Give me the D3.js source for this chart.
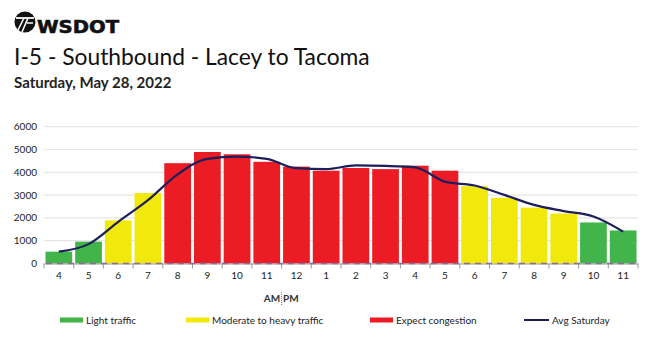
<!DOCTYPE html>
<html>
<head>
<meta charset="utf-8">
<script src="https://cdn.jsdelivr.net/npm/d3@7"></script>
<style>
  html, body { margin: 0; padding: 0; background: #fff; }
  svg { display: block; font-family: Lato, "Open Sans", sans-serif; }
</style>
</head>
<body>
<svg id="chart" width="650" height="337"></svg>
<script>
// Hourly labels, 4 AM through 11 PM
const hours = ["4","5","6","7","8","9","10","11","12","1","2","3","4","5","6","7","8","9","10","11"];
// Traffic volume for the day
const volumes = [520, 960, 1890, 3090, 4400, 4890, 4790, 4460, 4250, 4070, 4190, 4140, 4290, 4070, 3390, 2880, 2450, 2190, 1800, 1450];
// Average Saturday volume
const avgSaturday = [520, 850, 1830, 2780, 3910, 4590, 4690, 4590, 4180, 4140, 4300, 4280, 4220, 3590, 3420, 3010, 2570, 2300, 2060, 1400];
// Congestion level of each hour
const levels = ["light","light","moderate","moderate",
  "congestion","congestion","congestion","congestion","congestion",
  "congestion","congestion","congestion","congestion","congestion",
  "moderate","moderate","moderate","moderate","light","light"];
const yTicks = [0, 1000, 2000, 3000, 4000, 5000, 6000];
const legendItems = [
  { key: "light", label: "Light traffic" },
  { key: "moderate", label: "Moderate to heavy traffic" },
  { key: "congestion", label: "Expect congestion" },
  { key: "avg", label: "Avg Saturday" }
];

const colors = { light: "#41b54a", moderate: "#f2e90c", congestion: "#ec1c24", avg: "#1c1f5c" };

const svg = d3.select("#chart");

// Header: logo, title, date
const logo = svg.append("g").attr("transform", "translate(25,22)");
logo.append("circle").attr("r", 10.5).attr("fill", "#111");
logo.append("path").attr("d", "M-9,-4 L9,-4").attr("stroke", "#fff").attr("stroke-width", 1.8);
logo.append("path").attr("d", "M-1,-4 L-7,8 M3,-4 L-3,10 M2,1 L8,1").attr("stroke", "#fff").attr("stroke-width", 1.6).attr("fill", "none");
svg.append("text").attr("x", 37).attr("y", 33).attr("font-family", "'DejaVu Sans', sans-serif")
  .attr("font-weight", "bold").attr("font-size", 17).attr("fill", "#111")
  .attr("stroke", "#111").attr("stroke-width", 0.6)
  .attr("textLength", 82).attr("lengthAdjust", "spacingAndGlyphs").text("WSDOT");

svg.append("text").attr("x", 14).attr("y", 65).attr("font-size", 22.8).attr("fill", "#111")
  .text("I-5 - Southbound - Lacey to Tacoma");
svg.append("text").attr("x", 14).attr("y", 88).attr("font-size", 15).attr("font-weight", "bold").attr("fill", "#222")
  .text("Saturday, May 28, 2022");

// Plot area
const plotLeft = 44, plotRight = 638, plotTop = 126.7, plotBottom = 263.5;
const x = d3.scaleBand().domain(d3.range(hours.length)).range([plotLeft, plotRight]).paddingInner(0.1).paddingOuter(0.05);
const y = d3.scaleLinear().domain([0, 6000]).range([plotBottom, plotTop]);

// Gridlines
svg.append("g").selectAll("line").data(yTicks.filter(d => d > 0)).join("line")
  .attr("x1", plotLeft).attr("x2", plotRight)
  .attr("y1", d => y(d)).attr("y2", d => y(d))
  .attr("stroke", "#e6e6e6").attr("stroke-width", 1.2);

// Y labels
svg.append("g").selectAll("text").data(yTicks).join("text")
  .attr("x", 37).attr("y", d => y(d)).attr("dy", "0.35em")
  .attr("text-anchor", "end").attr("font-size", 10).attr("fill", "#222")
  .text(d => d);

// Bars
svg.append("g").selectAll("rect").data(volumes).join("rect")
  .attr("x", (d, i) => x(i)).attr("width", x.bandwidth())
  .attr("y", d => y(d)).attr("height", d => y(0) - y(d))
  .attr("fill", (d, i) => colors[levels[i]]);

// X axis
const step = x.step();
const edge0 = x(0) - step * x.paddingInner() / 2;
const xAxis = svg.append("g");
xAxis.append("line").attr("x1", plotLeft).attr("x2", plotRight).attr("y1", plotBottom + 0.5).attr("y2", plotBottom + 0.5)
  .attr("stroke", "#999").attr("stroke-width", 1);
xAxis.selectAll("line.tick").data(d3.range(hours.length + 1)).join("line").attr("class", "tick")
  .attr("x1", i => edge0 + i * step).attr("x2", i => edge0 + i * step)
  .attr("y1", plotBottom).attr("y2", plotBottom + 5).attr("stroke", "#999");
// dashed zero reference
xAxis.append("line").attr("x1", plotLeft + 2).attr("x2", plotRight - 2).attr("y1", plotBottom).attr("y2", plotBottom)
  .attr("stroke", "#8d6c9c").attr("stroke-width", 1.5).attr("stroke-dasharray", "6,5");
xAxis.selectAll("text").data(hours).join("text")
  .attr("x", (d, i) => x(i) + x.bandwidth() / 2).attr("y", 279)
  .attr("text-anchor", "middle").attr("font-size", 10).attr("fill", "#222")
  .text(d => d);

// Average line
const line = d3.line().x((d, i) => x(i) + x.bandwidth() / 2).y(d => y(d)).curve(d3.curveMonotoneX);
svg.append("path").datum(avgSaturday).attr("d", line)
  .attr("fill", "none").attr("stroke", colors.avg).attr("stroke-width", 2.2);

// AM | PM marker at the noon boundary
const noonX = edge0 + 8 * step;
svg.append("line").attr("x1", noonX).attr("x2", noonX).attr("y1", 292).attr("y2", 305)
  .attr("stroke", "#777").attr("stroke-width", 1).attr("stroke-dasharray", "1,1");
svg.append("text").attr("x", noonX - 1.5).attr("y", 302).attr("text-anchor", "end")
  .attr("font-size", 10).attr("font-weight", "bold").attr("fill", "#333").text("AM");
svg.append("text").attr("x", noonX + 1.5).attr("y", 302)
  .attr("font-size", 10).attr("font-weight", "bold").attr("fill", "#333").text("PM");

// Legend
const legendX = [60, 186, 370, 524];
const lg = svg.append("g").selectAll("g").data(legendItems).join("g")
  .attr("transform", (d, i) => `translate(${legendX[i]},320)`);
lg.append("rect").attr("x", 0).attr("width", d => d.key === "avg" ? 25 : 23)
  .attr("y", d => d.key === "avg" ? -1 : -2.5).attr("height", d => d.key === "avg" ? 2 : 5)
  .attr("fill", d => colors[d.key]);
lg.append("text").attr("x", d => d.key === "avg" ? 28 : 26).attr("y", 0).attr("dy", "0.35em")
  .attr("font-size", 10).attr("fill", "#222")
  .text(d => d.label);
</script>
</body>
</html>
